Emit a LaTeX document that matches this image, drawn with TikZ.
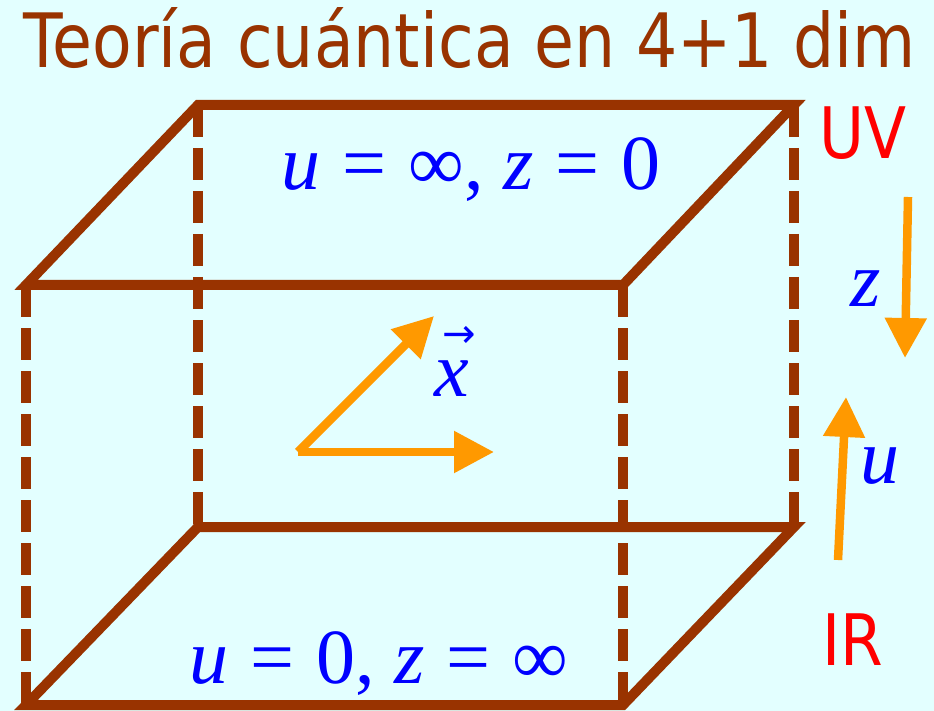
\documentclass[tikz,border=0pt]{standalone}
\usepackage{fontspec}
\usetikzlibrary{arrows.meta}
\newfontfamily\titlefont[FakeStretch=0.865]{DejaVu Sans}
\newfontfamily\eqfont{Liberation Serif}
\newfontfamily\symfont{DejaVu Sans}
\newcommand\eqsp{\hspace{0.28em}}
\newcommand\vlet[1]{\textit{#1}}
\definecolor{bgcyan}{RGB}{227,255,255}
\definecolor{boxbrown}{RGB}{153,51,0}
\definecolor{arrorange}{RGB}{255,153,0}

\begin{document}
\begin{tikzpicture}[x=1pt,y=-1pt,
  edge/.style={draw=boxbrown,line width=10pt,line join=miter},
  hidden/.style={edge,dash pattern=on 32pt off 11pt},
  arr/.style={draw=arrorange,line width=8.5pt,-{Triangle[length=40pt,width=40pt]}},
  lbl/.style={text=blue,font=\eqfont\fontsize{78}{84}\selectfont,inner sep=0pt},
  side/.style={text=red,font=\titlefont\fontsize{71}{75}\selectfont,inner sep=0pt,anchor=base}
]
\fill[bgcyan] (0,0) rectangle (934,711);
\useasboundingbox (0,0) rectangle (934,711);
% title
\node[text=boxbrown,font=\titlefont\fontsize{75}{80}\selectfont,anchor=base,inner sep=0pt]
  (title) at (470,68) {Teoría cuántica en 4+1 dim};
% box corners
\coordinate (ftl) at (26,285);  \coordinate (ftr) at (623,285);
\coordinate (fbl) at (26,705);  \coordinate (fbr) at (623,705);
\coordinate (btl) at (198,105); \coordinate (btr) at (794,105);
\coordinate (bbl) at (198,527); \coordinate (bbr) at (794,527);
\draw[hidden] (ftl) -- (fbl);
\draw[hidden] (ftr) -- (fbr);
\draw[hidden] (btl) -- (bbl);
\draw[hidden] (btr) -- (bbr);
\draw[edge] (ftl) -- (btl) -- (btr) -- (ftr) -- cycle;
\draw[edge] (fbl) -- (bbl) -- (bbr) -- (fbr) -- cycle;
% boundary labels
\node[lbl,anchor=base] (uvface) at (471,190)
  {\vlet{u}\eqsp=\eqsp∞, \vlet{z}\eqsp=\eqsp0};
\node[lbl,anchor=base] (irface) at (379,683)
  {\vlet{u}\eqsp=\eqsp0, \vlet{z}\eqsp=\eqsp∞};
% directions along the boundary
\coordinate (orig) at (298,452);
\coordinate (xtip) at (434,316);
\coordinate (ytip) at (494,452);
\draw[arr] (orig) -- (xtip);
\draw[arr] (orig) -- (ytip);
\node[lbl,anchor=base] (xvec) at (452,396)
  {\rlap{\hspace{0.1em}\raisebox{0.62em}{\symfont\fontsize{40}{40}\selectfont→}}\vlet{x}};
% radial direction
\node[side] (uv) at (863,159) {UV};
\node[side] (ir) at (853,665) {IR};
\coordinate (zstart) at (908,197);
\coordinate (zend) at (905,358);
\coordinate (ustart) at (838,560);
\coordinate (uend) at (846,397);
\draw[arr] (zstart) -- (zend);
\draw[arr] (ustart) -- (uend);
\node[lbl,anchor=base] (zlbl) at (866,306) {\vlet{z}};
\node[lbl,anchor=base] (ulbl) at (880,483) {\vlet{u}};
\end{tikzpicture}
\end{document}
